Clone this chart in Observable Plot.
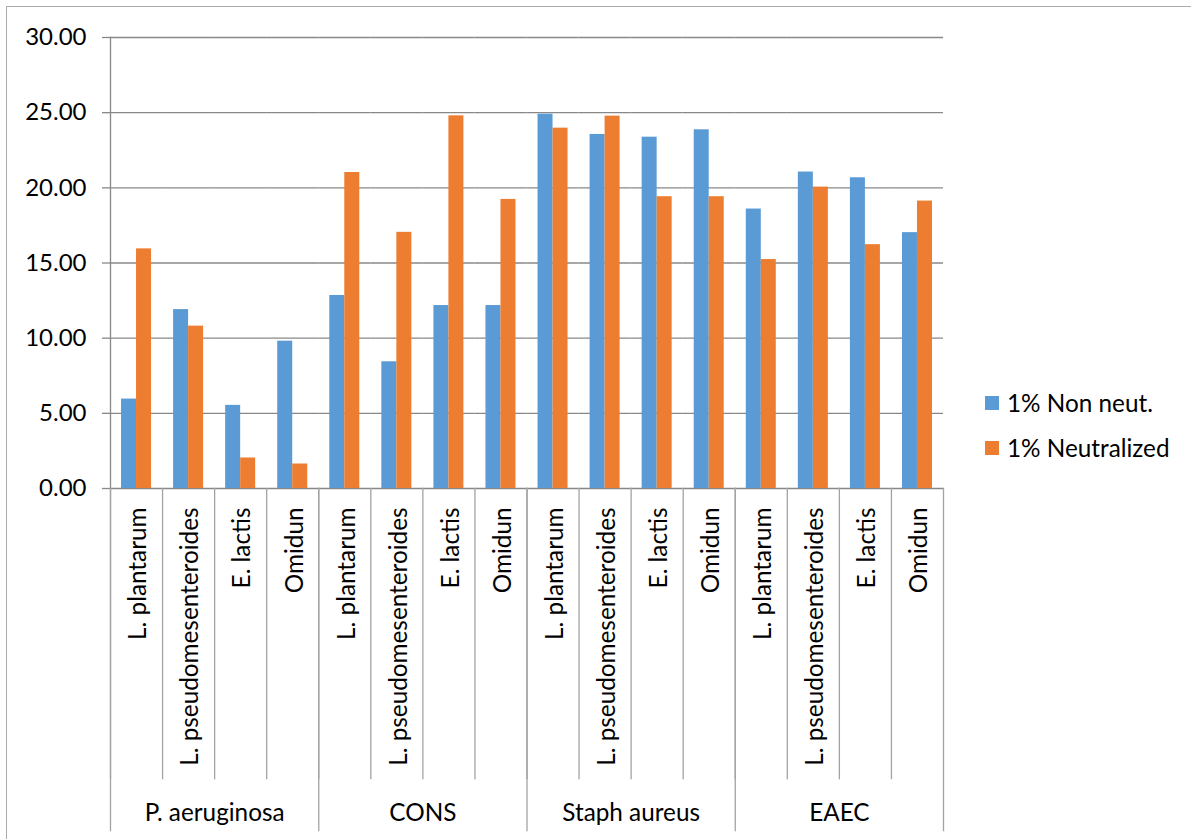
<!DOCTYPE html>
<html>
<head>
<meta charset="utf-8">
<script src="https://cdn.jsdelivr.net/npm/d3@7"></script>
<script src="https://cdn.jsdelivr.net/npm/@observablehq/plot@0.6"></script>
<style>
  html, body { margin: 0; padding: 0; background: #fff; overflow: hidden; }
  #chart { position: relative; width: 1191px; height: 839px; font-family: Lato, "Open Sans", sans-serif; }
  #chart svg { position: absolute; left: 0; top: 0; }
  #border { position: absolute; left: 6px; top: 6px; width: 1400px; height: 1000px;
            border-left: 1.5px solid #ababab; border-top: 1.5px solid #ababab; pointer-events: none; }
  #legend { position: absolute; left: 985px; top: 380px; font-size: 24.3px; color: #000; }
  .item { display: flex; align-items: center; height: 45.3px; white-space: nowrap; }
  .sw { width: 14px; height: 14px; margin-right: 8px; flex: none; }
</style>
</head>
<body>
<div id="chart"><div id="legend"></div></div>
<script>
// Pathogen groups and the strains tested against each
const groups = ["P. aeruginosa", "CONS", "Staph aureus", "EAEC"];
const species = ["L. plantarum", "L. pseudomesenteroides", "E. lactis", "Omidun"];

// Series names and values (one per group × species, in order)
const seriesNames = ["1% Non neut.", "1% Neutralized"];
const nonNeut = [5.95, 11.90, 5.53, 9.80, 12.84, 8.43, 12.17, 12.17, 24.90, 23.55, 23.37, 23.86, 18.59, 21.05, 20.67, 17.02];
const neutralized = [15.94, 10.80, 2.03, 1.63, 21.02, 17.04, 24.79, 19.23, 23.97, 24.77, 19.41, 19.41, 15.23, 20.05, 16.22, 19.12];

// Value axis ticks
const yTicks = [0, 5, 10, 15, 20, 25, 30];

const colors = ["#5b9bd5", "#ed7d31"];

// Layout
const W = 1191, H = 839;
const M = { left: 110, right: 248, top: 37, bottom: 351 };
const plotH = H - M.top - M.bottom;
const FONT = 24.3;
const gridColor = "#888888";
const sepColor = "#a3a3a3";

// Long-format table for the grouped bars
const keys = groups.flatMap(g => species.map(s => g + "|" + s));
const rows = [];
keys.forEach((k, i) => {
  rows.push({ key: k, series: seriesNames[0], value: nonNeut[i] });
  rows.push({ key: k, series: seriesNames[1], value: neutralized[i] });
});
const cats = keys.map(k => ({ key: k, species: k.split("|")[1] }));
const groupStarts = groups.map((g, gi) => keys[gi * species.length]);
const groupLabels = groups.map((g, gi) => ({ key: keys[gi * species.length + 1], group: g }));

const chart = Plot.plot({
  width: W,
  height: H,
  marginLeft: M.left,
  marginRight: M.right,
  marginTop: M.top,
  marginBottom: M.bottom,
  style: { background: "none", fontFamily: "Lato, 'Open Sans', sans-serif" },
  fx: { domain: keys, paddingInner: 0, paddingOuter: 0, round: false, axis: null, label: null },
  x: { domain: seriesNames, paddingInner: 0, paddingOuter: 0.735, round: false, axis: null, label: null },
  y: { domain: [0, 30], axis: null, label: null },
  color: { domain: seriesNames, range: colors },
  marks: [
    Plot.gridY(yTicks, { stroke: gridColor, strokeOpacity: 1, strokeWidth: 1.3 }),
    Plot.axisY(yTicks, {
      tickFormat: d3.format(".2f"), tickSize: 8, tickPadding: 16,
      fontSize: 24, stroke: gridColor, strokeWidth: 1.3, fill: "#000", label: null
    }),
    // value axis line
    Plot.frame({ anchor: "left", fx: keys[0], stroke: gridColor, strokeWidth: 1.3 }),
    Plot.barY(rows, { fx: "key", x: "series", y: "value", fill: "series" }),
    // separators between strain labels
    Plot.frame({ anchor: "left", insetTop: plotH, insetBottom: -290, stroke: sepColor, strokeWidth: 1.3 }),
    // longer separators between pathogen groups
    ...groupStarts.map(k => Plot.frame({ anchor: "left", fx: k, insetTop: plotH, insetBottom: -342, stroke: sepColor, strokeWidth: 1.3 })),
    Plot.frame({ anchor: "right", fx: keys[keys.length - 1], insetTop: plotH, insetBottom: -342, stroke: sepColor, strokeWidth: 1.3 }),
    // strain labels (rotated)
    Plot.text(cats, {
      fx: "key", text: "species", frameAnchor: "bottom", dy: 19, dx: 2,
      rotate: -90, textAnchor: "end", lineAnchor: "middle", fontSize: FONT, fill: "#000"
    }),
    // pathogen group labels
    Plot.text(groupLabels, {
      fx: "key", text: "group", frameAnchor: "bottom-right", dy: 325,
      textAnchor: "middle", lineAnchor: "middle", fontSize: FONT, fill: "#000"
    })
  ]
});

const root = document.getElementById("chart");
root.insertBefore(chart, root.firstChild);
const border = document.createElement("div");
border.id = "border";
root.appendChild(border);

// Legend
const legend = document.getElementById("legend");
seriesNames.forEach((name, i) => {
  const item = document.createElement("div");
  item.className = "item";
  const sw = document.createElement("span");
  sw.className = "sw";
  sw.style.background = colors[i];
  const label = document.createElement("span");
  label.textContent = name;
  item.appendChild(sw);
  item.appendChild(label);
  legend.appendChild(item);
});
</script>
</body>
</html>
